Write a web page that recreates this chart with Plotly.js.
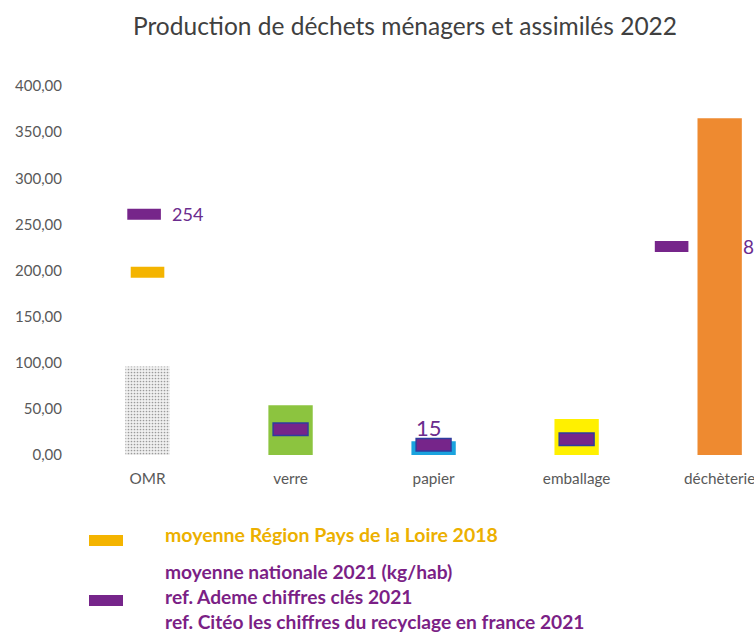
<!DOCTYPE html>
<html>
<head>
<meta charset="utf-8">
<script src="https://cdn.plot.ly/plotly-3.0.1.min.js"></script>
<style>html,body{margin:0;padding:0;background:#fff;}#chart{width:754px;height:632px;}</style>
</head>
<body>
<div id="chart"></div>
<script>
// ---- data ----
var categories = ["OMR", "verre", "papier", "emballage", "déchèterie"];
var production2022 = [96, 54, 15, 39, 365];
var moyenneRegion2018 = [198, null, null, null, null];
var moyenneNationale2021 = [261, 28, 11, 17, 226];
var nationaleLabels = ["254", "", "15", "", "8"];
var yTicks = [0, 50, 100, 150, 200, 250, 300, 350, 400];

// ---- styles ----
var barColors = ["#f0f0f0", "#8cc43f", "#1aa3de", "#fff000", "#ee8a30"];
var barPatterns = [".", "", "", "", ""];
var natShift = [-0.024, 0, 0, 0, -0.336];
var natBorder = ["rgba(0,0,0,0)", "#2e3d9e", "#2e3d9e", "#2e3d9e", "rgba(0,0,0,0)"];
var purple = "#76258a";
var gold = "#f4b400";
var labelColor = "#6b2c8e";

var idx = categories.map(function (c, i) { return i; });
var natX = idx.map(function (i) { return i + natShift[i]; });
var FONT = "Lato, 'Open Sans', sans-serif";

var traces = [
  {
    type: "bar", x: idx, y: production2022, width: 0.31,
    marker: { color: barColors, line: { width: 0 },
      pattern: { shape: barPatterns, fgcolor: "#d4d4d4", size: 3, solidity: 0.25, fillmode: "overlay" } },
    hoverinfo: "y", showlegend: false
  },
  {
    type: "scatter", mode: "markers", x: idx, y: moyenneRegion2018,
    marker: { symbol: "line-ew", size: 24, color: gold, line: { width: 11, color: gold } },
    showlegend: false, hoverinfo: "y"
  },
  {
    type: "scatter", mode: "markers", x: natX, y: moyenneNationale2021,
    marker: { symbol: "line-ew", size: 26, color: natBorder, line: { width: 14, color: natBorder } },
    showlegend: false, hoverinfo: "skip"
  },
  {
    type: "scatter", mode: "markers", x: natX, y: moyenneNationale2021,
    marker: { symbol: "line-ew", size: 24, color: purple, line: { width: 11, color: purple } },
    showlegend: false, hoverinfo: "y"
  }
];

var labelOffsets = [{ xs: 22, ys: 0, xa: "left", ya: "middle", size: 18 },
                    null,
                    { xs: -5, ys: 2, xa: "center", ya: "bottom", size: 22 },
                    null,
                    { xs: 21, ys: 0, xa: "left", ya: "middle", size: 19 }];
var annotations = [];
nationaleLabels.forEach(function (t, i) {
  if (!t) return;
  var o = labelOffsets[i];
  annotations.push({
    x: i, y: moyenneNationale2021[i], xref: "x", yref: "y", text: t, showarrow: false,
    xanchor: o.xa, yanchor: o.ya, xshift: o.xs, yshift: o.ys,
    font: { family: FONT, size: o.size, color: labelColor }
  });
});

// legend (drawn as annotations + shapes)
function px2paperX(p) { return (p - 76) / 678; }
function px2paperY(p) { return (455 - p) / 369; }
annotations.push({
  xref: "paper", yref: "paper", x: px2paperX(163), y: px2paperY(534), xanchor: "left", yanchor: "middle",
  showarrow: false, text: "<b>moyenne Région Pays de la Loire 2018</b>",
  font: { family: FONT, size: 19.5, color: "#ecb000" }
});
annotations.push({
  xref: "paper", yref: "paper", x: px2paperX(163), y: px2paperY(596), xanchor: "left", yanchor: "middle",
  showarrow: false, align: "left",
  text: "<b>moyenne nationale 2021 (kg/hab)<br>ref. Ademe chiffres clés 2021<br>ref. Citéo les chiffres du recyclage en france 2021</b>",
  font: { family: FONT, size: 19.2, color: "#7b1f86" }
});
var shapes = [
  { type: "rect", xref: "paper", yref: "paper", x0: px2paperX(89), x1: px2paperX(123),
    y0: px2paperY(546), y1: px2paperY(535), fillcolor: gold, line: { width: 0 } },
  { type: "rect", xref: "paper", yref: "paper", x0: px2paperX(89), x1: px2paperX(123),
    y0: px2paperY(606), y1: px2paperY(595), fillcolor: purple, line: { width: 0 } }
];

var layout = {
  width: 754, height: 632,
  margin: { l: 76, r: 0, t: 86, b: 177 },
  paper_bgcolor: "#ffffff", plot_bgcolor: "#ffffff",
  separators: ", ",
  title: {
    text: "Production de déchets ménagers et assimilés 2022",
    font: { family: FONT, size: 24.5, color: "#404040" },
    xref: "container", yref: "container", x: 405 / 754, xanchor: "center", y: 1 - 26 / 632, yanchor: "middle"
  },
  xaxis: {
    type: "linear", range: [-0.5, 4.24], tickvals: idx, ticktext: categories,
    showgrid: false, zeroline: false, showline: false, ticks: "",
    ticklabeloverflow: "allow",
    tickfont: { family: FONT, size: 15.3, color: "#595959" }, ticklabelstandoff: 13
  },
  yaxis: {
    range: [0, 400], tickvals: yTicks, tickformat: ".2f",
    showgrid: false, zeroline: false, showline: false, ticks: "",
    tickfont: { family: FONT, size: 15, color: "#595959" }, ticklabelstandoff: 13
  },
  annotations: annotations,
  shapes: shapes,
  showlegend: false
};

Plotly.newPlot("chart", traces, layout, { displayModeBar: false, staticPlot: true });
</script>
</body>
</html>
